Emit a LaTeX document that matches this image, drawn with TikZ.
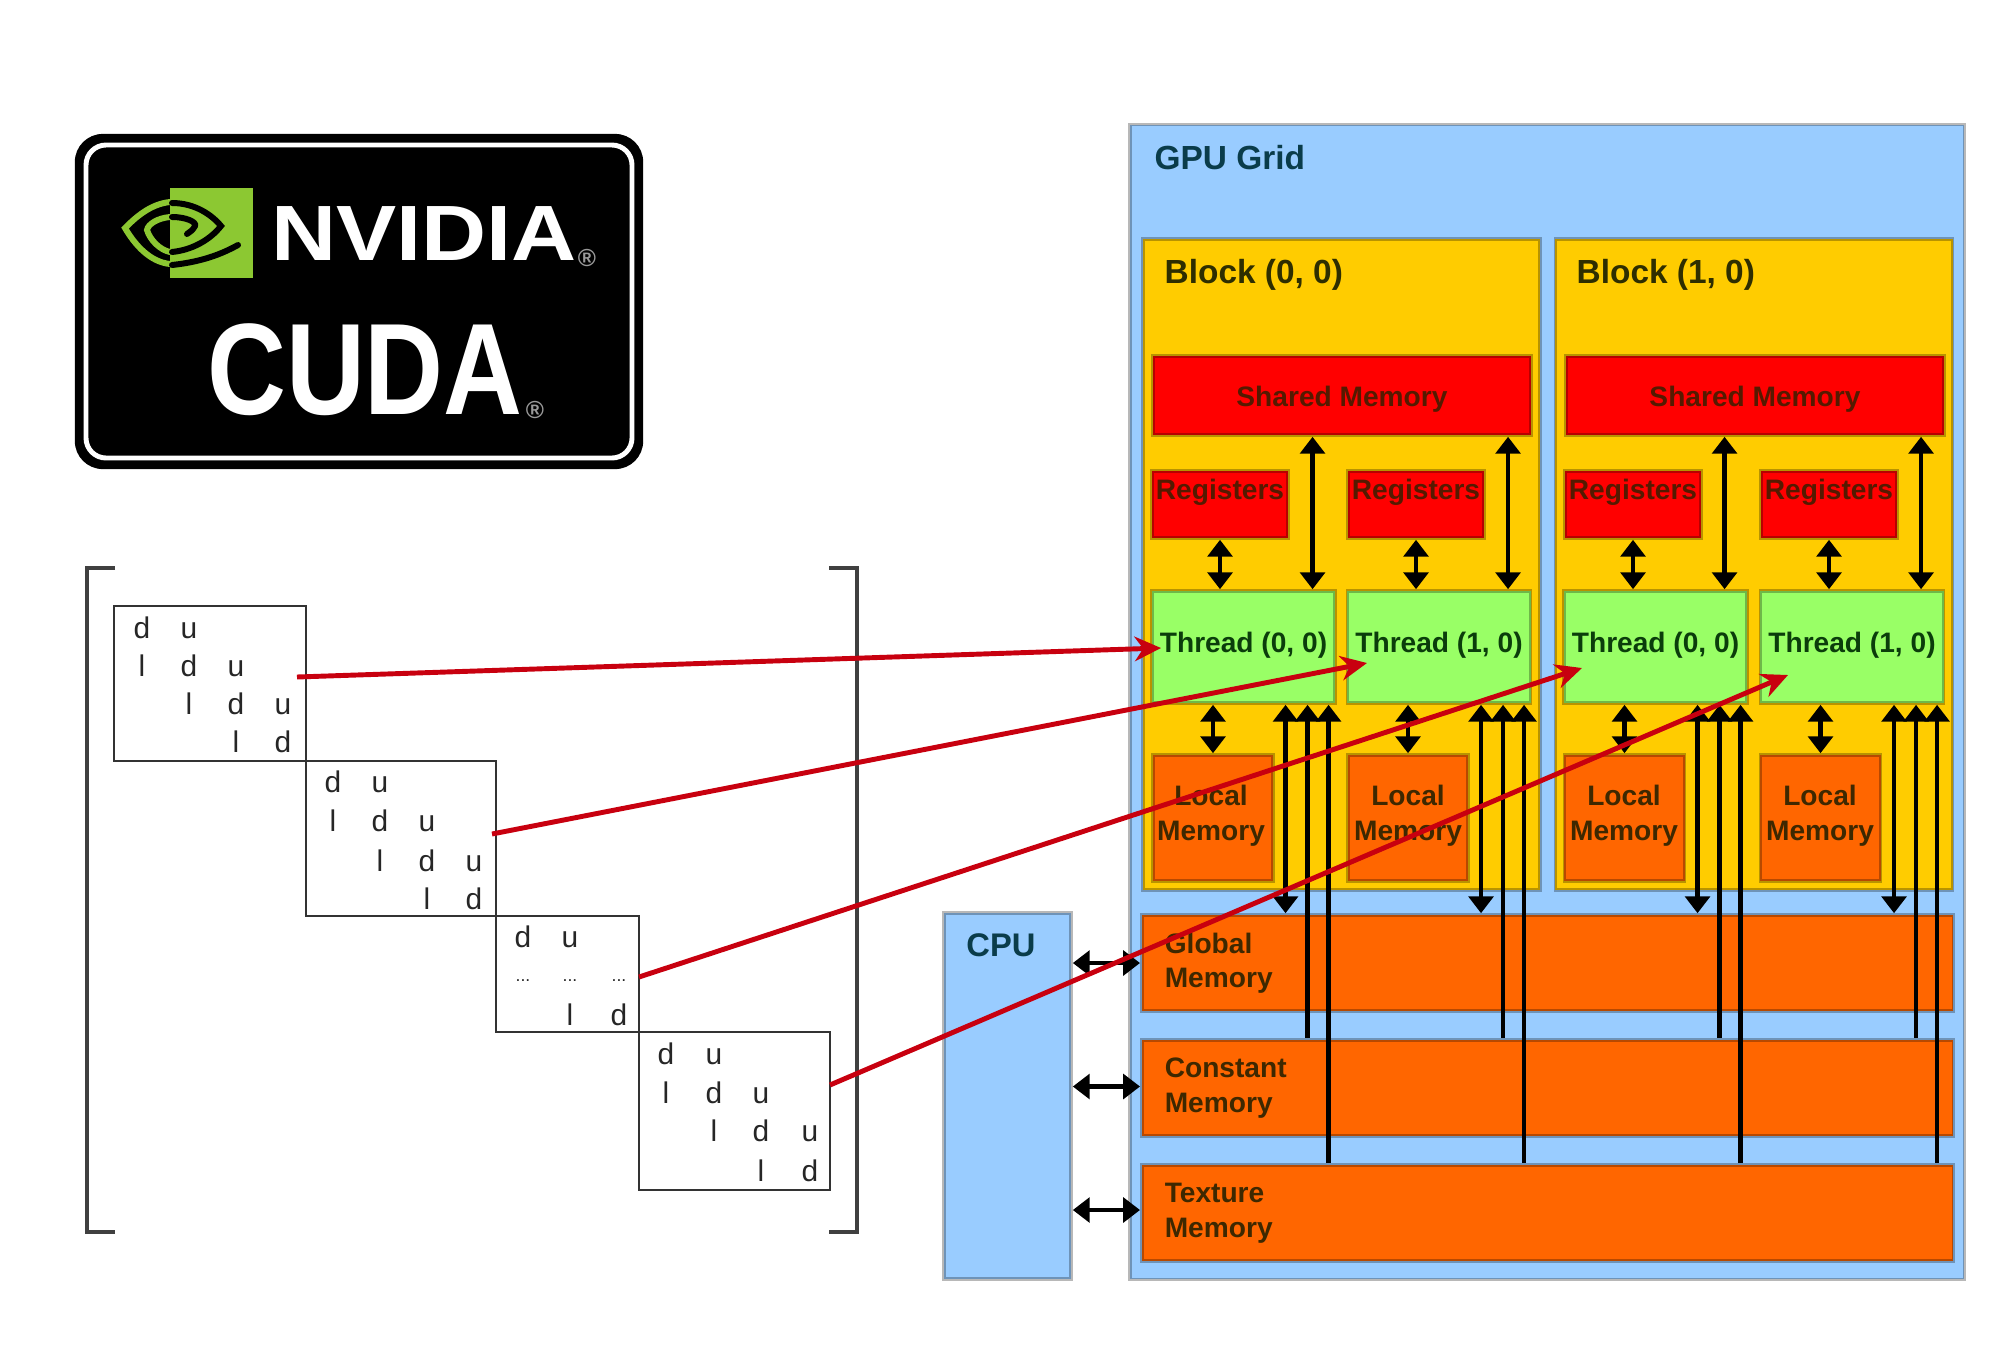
\documentclass[tikz,border=0pt]{standalone}
\usepackage{fontspec}
\setmainfont{Liberation Sans}
\usetikzlibrary{arrows.meta}
\definecolor{gridblue}{HTML}{99CCFF}
\definecolor{blockyellow}{HTML}{FFCC00}
\definecolor{threadgreen}{HTML}{99FF66}
\definecolor{memorange}{HTML}{FF6600}
\definecolor{nvgreen}{HTML}{8CC832}
\definecolor{hotred}{HTML}{C8000F}
\definecolor{gridtext}{HTML}{0A3C4A}
\definecolor{blocktext}{HTML}{2E2E00}
\definecolor{redtext}{HTML}{551A00}
\definecolor{threadtext}{HTML}{0B3D0B}
\definecolor{memtext}{HTML}{3E2800}
\tikzset{
    box/.style={draw=black,draw opacity=0.28,line width=1pt,inner sep=0pt,font=\bfseries\fontsize{8}{9.8}\selectfont,align=center},
    gridbox/.style={box,fill=gridblue},
    blockbox/.style={box,fill=blockyellow,minimum width=3.97cm,minimum height=6.51cm},
    sharedbox/.style={box,fill=red,minimum width=3.78cm,minimum height=0.79cm,text=redtext,text height=8.5pt,text depth=2.5pt},
    regbox/.style={box,fill=red,minimum width=1.36cm,minimum height=0.67cm},
    threadbox/.style={box,fill=threadgreen,minimum width=1.83cm,minimum height=1.12cm,text=threadtext,text height=7pt,text depth=3.8pt},
    localbox/.style={box,fill=memorange,minimum width=1.20cm,minimum height=1.26cm},
    globalbox/.style={box,fill=memorange,align=left,inner xsep=0.23cm,text width=7.65cm,minimum height=0.96cm,text=memtext},
    boxlabel/.style={inner sep=0pt,anchor=west,font=\bfseries\fontsize{9.5}{12}\selectfont},
    reglabel/.style={inner sep=0pt,text=redtext,font=\bfseries\fontsize{8}{10}\selectfont},
    locallabel/.style={inner sep=0pt,text=memtext,align=center,font=\bfseries\fontsize{8}{9.8}\selectfont},
    twoway/.style={{Triangle[length=4.8pt,width=7pt]}-{Triangle[length=4.8pt,width=7pt]},line width=1.3pt},
    upway/.style={{Triangle[length=4.8pt,width=7pt]}-,line width=1.2pt},
    hotlink/.style={-{Stealth[length=7.5pt,width=7pt]},line width=1.4pt,draw=hotred},
    eyeline/.style={line width=1.7pt,line cap=round},
    matbox/.style={draw=black!80,line width=0.8pt,inner sep=0pt},
    entry/.style={inner sep=0pt,text height=6pt,text depth=0pt,text=black!85,font=\fontsize{8.5}{10}\selectfont}
}
\begin{document}
\begin{tikzpicture}[x=0.01cm,y=-0.01cm]
    \useasboundingbox (0,0) rectangle (2000,1345);

    \node[fill=black,rounded corners=0.28cm,minimum width=5.68cm,minimum height=3.35cm,inner sep=0pt] (logoBack) at (359,301.5) {};
    \draw[white,line width=1.4pt,rounded corners=0.2cm] (86,145) rectangle (632,458);
    \node[fill=nvgreen,minimum width=0.83cm,minimum height=0.90cm,inner sep=0pt] (logoSquare) at (211.5,233) {};
    \draw[eyeline,nvgreen] (170,202) .. controls (150,204) and (135,218) .. (125,228) .. controls (135,245) and (150,262) .. (170,264);
    \draw[eyeline,nvgreen] (170,217) .. controls (158,218) and (148,224) .. (147,230) .. controls (150,240) and (160,250) .. (170,252);
    \draw[eyeline,black] (172,203) .. controls (195,203) and (212,215) .. (221,226) .. controls (210,240) and (192,250) .. (172,252);
    \draw[eyeline,black] (172,217) .. controls (186,217) and (197,222) .. (195,226) .. controls (193,230) and (190,232) .. (187,234);
    \draw[eyeline,black] (172,265) .. controls (200,262) and (220,255) .. (238,245);
    \node[inner sep=0pt,text=white,xscale=1.15,font=\bfseries\fontsize{22.3}{24}\selectfont] (logoName) at (424,234) {NVIDIA};
    \node[inner sep=0pt,text=black!40,font=\bfseries\fontsize{7}{8}\selectfont] (logoMarkA) at (587,258) {®};
    \node[inner sep=0pt,text=white,xscale=0.84,font=\bfseries\fontsize{37}{40}\selectfont] (logoCuda) at (365,370) {CUDA};
    \node[inner sep=0pt,text=black!40,font=\bfseries\fontsize{7}{8}\selectfont] (logoMarkB) at (535,410) {®};

    \node[gridbox,minimum width=8.34cm,minimum height=11.54cm] (gpu) at (1547,702) {};
    \node[gridbox,minimum width=1.27cm,minimum height=3.66cm] (cpu) at (1007.5,1096) {};
    \node[boxlabel,text=gridtext] (gpuLabel) at (1154,158) {GPU Grid};
    \node[inner sep=0pt,text=gridtext,font=\bfseries\fontsize{9.3}{11}\selectfont] (cpuLabel) at (1001,945) {CPU};

    \node[blockbox] (blockA) at (1341.5,564.5) {};
    \node[blockbox] (blockB) at (1754,564.5) {};
    \node[boxlabel,text=blocktext] (blockLabelA) at (1164,274.5) {Block (0, 0)};
    \node[boxlabel,text=blocktext] (blockLabelB) at (1576,274.5) {Block (1, 0)};

    \node[sharedbox] (sharedA) at (1342,395.5) {Shared Memory};
    \node[sharedbox] (sharedB) at (1755,395.5) {Shared Memory};

    \node[regbox] (regA) at (1220,504.5) {};
    \node[regbox] (regB) at (1416,504.5) {};
    \node[regbox] (regC) at (1633,504.5) {};
    \node[regbox] (regD) at (1829,504.5) {};
    \node[reglabel] (regLabelA) at (1220,492.5) {Registers};
    \node[reglabel] (regLabelB) at (1416,492.5) {Registers};
    \node[reglabel] (regLabelC) at (1633,492.5) {Registers};
    \node[reglabel] (regLabelD) at (1829,492.5) {Registers};

    \node[threadbox] (threadA) at (1243.5,647) {Thread (0, 0)};
    \node[threadbox] (threadB) at (1439,647) {Thread (1, 0)};
    \node[threadbox] (threadC) at (1655.5,647) {Thread (0, 0)};
    \node[threadbox] (threadD) at (1852,647) {Thread (1, 0)};

    \node[localbox] (localA) at (1213,818) {};
    \node[localbox] (localB) at (1408,818) {};
    \node[localbox] (localC) at (1624.5,818) {};
    \node[localbox] (localD) at (1820.5,818) {};
    \node[locallabel] (localLabelA) at (1211,815.5) {Local\\Memory};
    \node[locallabel] (localLabelB) at (1408,815.5) {Local\\Memory};
    \node[locallabel] (localLabelC) at (1624,815.5) {Local\\Memory};
    \node[locallabel] (localLabelD) at (1820,815.5) {Local\\Memory};

    \node[globalbox] (globalMem) at (1547.5,963) {Global\\Memory};
    \node[globalbox] (constMem) at (1547.5,1088) {Constant\\Memory};
    \node[globalbox] (textureMem) at (1547.5,1213) {Texture\\Memory};

    \draw[twoway] (regA.south) -- (regA.south |- threadA.north);
    \draw[twoway] (regB.south) -- (regB.south |- threadB.north);
    \draw[twoway] (regC.south) -- (regC.south |- threadC.north);
    \draw[twoway] (regD.south) -- (regD.south |- threadD.north);

    \draw[twoway] ([xshift=0.69cm]threadA.north) -- ([xshift=0.69cm]threadA.north |- sharedA.south);
    \draw[twoway] ([xshift=0.69cm]threadB.north) -- ([xshift=0.69cm]threadB.north |- sharedA.south);
    \draw[twoway] ([xshift=0.69cm]threadC.north) -- ([xshift=0.69cm]threadC.north |- sharedB.south);
    \draw[twoway] ([xshift=0.69cm]threadD.north) -- ([xshift=0.69cm]threadD.north |- sharedB.south);

    \draw[twoway] (localA.north) -- (localA.north |- threadA.south);
    \draw[twoway] (localB.north) -- (localB.north |- threadB.south);
    \draw[twoway] (localC.north) -- (localC.north |- threadC.south);
    \draw[twoway] (localD.north) -- (localD.north |- threadD.south);

    \draw[twoway] ([xshift=0.42cm]threadA.south) -- ([xshift=0.42cm]threadA.south |- globalMem.north);
    \draw[twoway] ([xshift=0.42cm]threadB.south) -- ([xshift=0.42cm]threadB.south |- globalMem.north);
    \draw[twoway] ([xshift=0.42cm]threadC.south) -- ([xshift=0.42cm]threadC.south |- globalMem.north);
    \draw[twoway] ([xshift=0.42cm]threadD.south) -- ([xshift=0.42cm]threadD.south |- globalMem.north);

    \draw[upway] ([xshift=0.64cm]threadA.south) -- ([xshift=0.64cm]threadA.south |- constMem.north);
    \draw[upway] ([xshift=0.64cm]threadB.south) -- ([xshift=0.64cm]threadB.south |- constMem.north);
    \draw[upway] ([xshift=0.64cm]threadC.south) -- ([xshift=0.64cm]threadC.south |- constMem.north);
    \draw[upway] ([xshift=0.64cm]threadD.south) -- ([xshift=0.64cm]threadD.south |- constMem.north);

    \draw[upway] ([xshift=0.85cm]threadA.south) -- ([xshift=0.85cm]threadA.south |- textureMem.north);
    \draw[upway] ([xshift=0.85cm]threadB.south) -- ([xshift=0.85cm]threadB.south |- textureMem.north);
    \draw[upway] ([xshift=0.85cm]threadC.south) -- ([xshift=0.85cm]threadC.south |- textureMem.north);
    \draw[upway] ([xshift=0.85cm]threadD.south) -- ([xshift=0.85cm]threadD.south |- textureMem.north);

    \draw[twoway] (cpu.east |- globalMem.west) -- (globalMem.west);
    \draw[twoway] ([yshift=0.015cm]cpu.east |- constMem.west) -- ([yshift=0.015cm]constMem.west);
    \draw[twoway] ([yshift=0.03cm]cpu.east |- textureMem.west) -- ([yshift=0.03cm]textureMem.west);

    \draw[draw=black!75,line width=0.9pt] (115,568) -- (87,568) -- (87,1232) -- (115,1232);
    \draw[draw=black!75,line width=0.9pt] (829,568) -- (857,568) -- (857,1232) -- (829,1232);

    \node[matbox,minimum width=1.92cm,minimum height=1.55cm] (matA) at (210,683.5) {};
    \node[matbox,minimum width=1.90cm,minimum height=1.55cm] (matB) at (401,838.5) {};
    \node[matbox,minimum width=1.43cm,minimum height=1.16cm] (matC) at (567.5,974) {};
    \node[matbox,minimum width=1.91cm,minimum height=1.58cm] (matD) at (734.5,1111) {};

    \node[entry] (a11) at (142,628) {d};
    \node[entry] (a12) at (189,628) {u};
    \node[entry] (a21) at (142,666) {l};
    \node[entry] (a22) at (189,666) {d};
    \node[entry] (a23) at (236,666) {u};
    \node[entry] (a32) at (189,704) {l};
    \node[entry] (a33) at (236,704) {d};
    \node[entry] (a34) at (283,704) {u};
    \node[entry] (a43) at (236,742) {l};
    \node[entry] (a44) at (283,742) {d};

    \node[entry] (b11) at (333,782) {d};
    \node[entry] (b12) at (380,782) {u};
    \node[entry] (b21) at (333,821) {l};
    \node[entry] (b22) at (380,821) {d};
    \node[entry] (b23) at (427,821) {u};
    \node[entry] (b32) at (380,861) {l};
    \node[entry] (b33) at (427,861) {d};
    \node[entry] (b34) at (474,861) {u};
    \node[entry] (b43) at (427,899) {l};
    \node[entry] (b44) at (474,899) {d};

    \node[entry] (c11) at (523,937) {d};
    \node[entry] (c12) at (570,937) {u};
    \node[entry,font=\fontsize{5}{6}\selectfont] (c21) at (523,971) {...};
    \node[entry,font=\fontsize{5}{6}\selectfont] (c22) at (570,971) {...};
    \node[entry,font=\fontsize{5}{6}\selectfont] (c23) at (619,971) {...};
    \node[entry] (c32) at (570,1015) {l};
    \node[entry] (c33) at (619,1015) {d};

    \node[entry] (d11) at (666,1054) {d};
    \node[entry] (d12) at (714,1054) {u};
    \node[entry] (d21) at (666,1093) {l};
    \node[entry] (d22) at (714,1093) {d};
    \node[entry] (d23) at (761,1093) {u};
    \node[entry] (d32) at (714,1131) {l};
    \node[entry] (d33) at (761,1131) {d};
    \node[entry] (d34) at (810,1131) {u};
    \node[entry] (d43) at (761,1171) {l};
    \node[entry] (d44) at (810,1171) {d};

    \coordinate (fromA) at (297,677);
    \coordinate (fromB) at (492,834);
    \coordinate (fromC) at (639,977);
    \coordinate (fromD) at (830,1085);
    \coordinate (toA) at (1161,648);
    \coordinate (toB) at (1367,663);
    \coordinate (toC) at (1582,668);
    \coordinate (toD) at (1788,675);
    \draw[hotlink] (fromA) -- (toA);
    \draw[hotlink] (fromB) -- (toB);
    \draw[hotlink] (fromC) -- (toC);
    \draw[hotlink] (fromD) -- (toD);
\end{tikzpicture}
\end{document}
